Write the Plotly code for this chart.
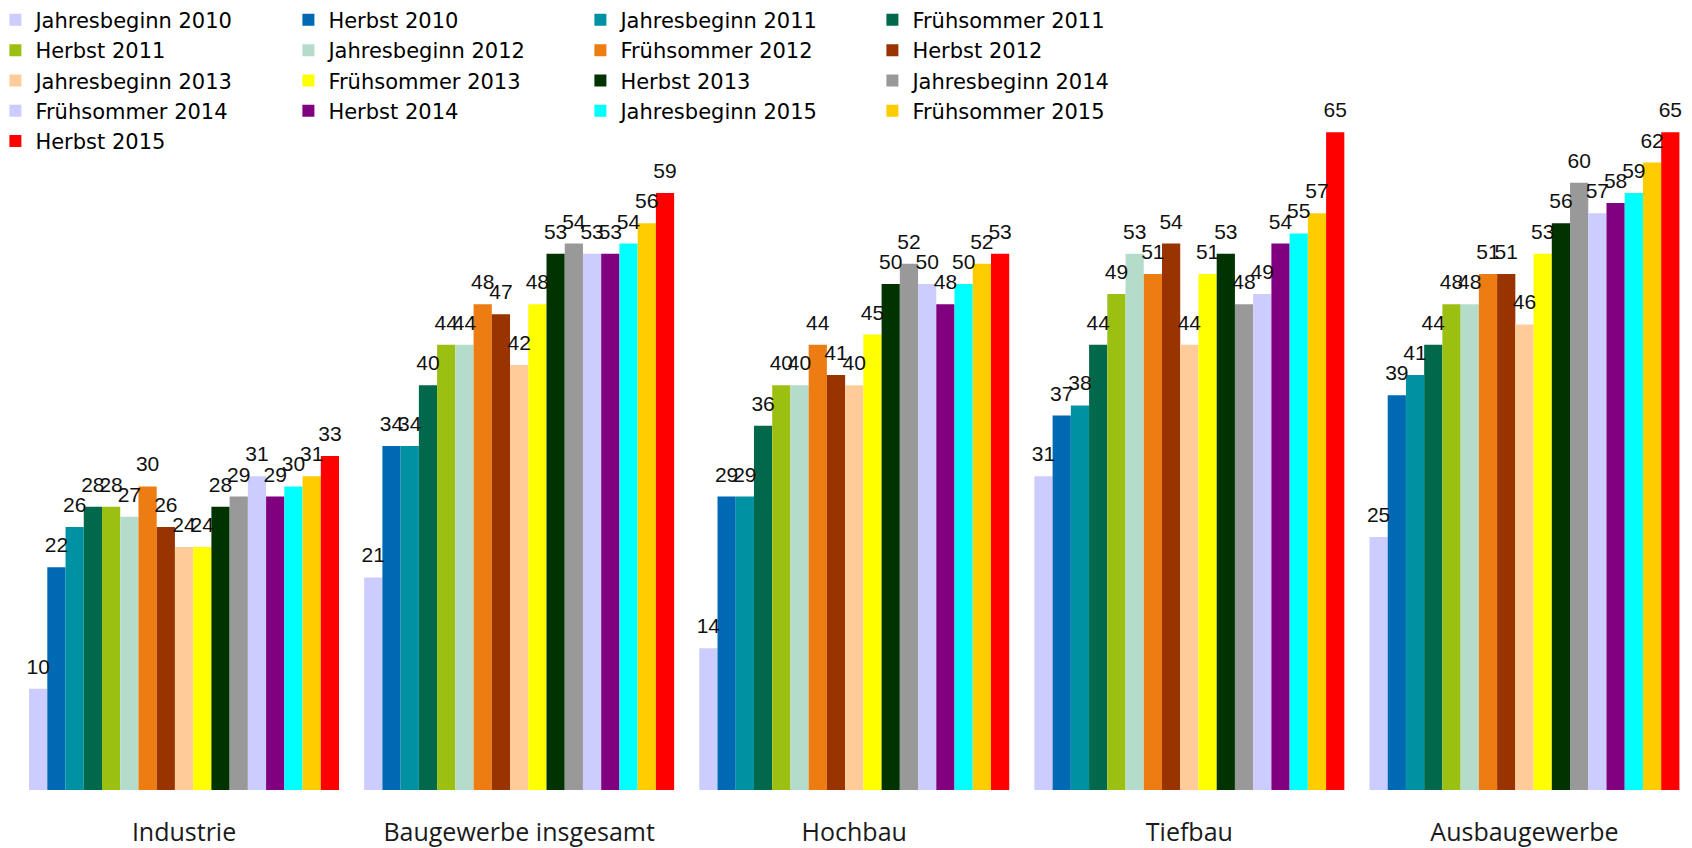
import plotly.graph_objects as go

categories = ["Industrie", "Baugewerbe insgesamt", "Hochbau", "Tiefbau", "Ausbaugewerbe"]

series_names = [
    "Jahresbeginn 2010", "Herbst 2010", "Jahresbeginn 2011", "Frühsommer 2011",
    "Herbst 2011", "Jahresbeginn 2012", "Frühsommer 2012", "Herbst 2012",
    "Jahresbeginn 2013", "Frühsommer 2013", "Herbst 2013", "Jahresbeginn 2014",
    "Frühsommer 2014", "Herbst 2014", "Jahresbeginn 2015", "Frühsommer 2015",
    "Herbst 2015",
]

# values per category (Industrie, Baugewerbe insgesamt, Hochbau, Tiefbau, Ausbaugewerbe)
jahresbeginn_2010 = [10, 21, 14, 31, 25]
herbst_2010 = [22, 34, 29, 37, 39]
jahresbeginn_2011 = [26, 34, 29, 38, 41]
fruehsommer_2011 = [28, 40, 36, 44, 44]
herbst_2011 = [28, 44, 40, 49, 48]
jahresbeginn_2012 = [27, 44, 40, 53, 48]
fruehsommer_2012 = [30, 48, 44, 51, 51]
herbst_2012 = [26, 47, 41, 54, 51]
jahresbeginn_2013 = [24, 42, 40, 44, 46]
fruehsommer_2013 = [24, 48, 45, 51, 53]
herbst_2013 = [28, 53, 50, 53, 56]
jahresbeginn_2014 = [29, 54, 52, 48, 60]
fruehsommer_2014 = [31, 53, 50, 49, 57]
herbst_2014 = [29, 53, 48, 54, 58]
jahresbeginn_2015 = [30, 54, 50, 55, 59]
fruehsommer_2015 = [31, 56, 52, 57, 62]
herbst_2015 = [33, 59, 53, 65, 65]

series_values = [
    jahresbeginn_2010, herbst_2010, jahresbeginn_2011, fruehsommer_2011,
    herbst_2011, jahresbeginn_2012, fruehsommer_2012, herbst_2012,
    jahresbeginn_2013, fruehsommer_2013, herbst_2013, jahresbeginn_2014,
    fruehsommer_2014, herbst_2014, jahresbeginn_2015, fruehsommer_2015,
    herbst_2015,
]

colors = [
    "#CCCCFF", "#0069B4", "#0091A3", "#00684B",
    "#9BC012", "#B5DCCB", "#ED7D13", "#993300",
    "#FFCC99", "#FFFF00", "#003300", "#999999",
    "#CCCCFF", "#800080", "#00FFFF", "#FFCC00",
    "#FF0000",
]

legend_ids = ["legend", "legend2", "legend3", "legend4"]
legend_x_px = [-12.6, 280.4, 572.4, 864.4]

W, H = 1684, 840
MB = 58
PLOT_H = H - MB
GAP = 0.075
LEGEND_FONT = dict(family="DejaVu Sans, Open Sans, sans-serif", size=21, color="#000000")
LABEL_FONT = dict(family="Liberation Sans, Arial, sans-serif", size=21, color="#111111")

fig = go.Figure()
# bars
for i, (name, vals, col) in enumerate(zip(series_names, series_values, colors)):
    fig.add_trace(go.Bar(
        name=name,
        x=categories,
        y=vals,
        marker=dict(color=col, line=dict(width=0)),
        legend=legend_ids[i % 4],
        hoverinfo="x+y+name",
    ))
# value labels above the bars (grouped like the bars)
for i, (name, vals) in enumerate(zip(series_names, series_values)):
    fig.add_trace(go.Scatter(
        name=name,
        x=categories,
        y=vals,
        mode="markers+text",
        marker=dict(size=14, color="rgba(0,0,0,0)", line=dict(width=0)),
        text=[str(v) for v in vals],
        textposition="top center",
        textfont=LABEL_FONT,
        cliponaxis=False,
        showlegend=False,
        hoverinfo="skip",
    ))

layout_legends = {}
for k, lid in enumerate(legend_ids):
    layout_legends[lid] = dict(
        xref="paper", yref="paper",
        x=legend_x_px[k] / W, y=1 + 8.3 / PLOT_H,
        xanchor="left", yanchor="top",
        orientation="v",
        font=LEGEND_FONT,
        bgcolor="rgba(0,0,0,0)",
        borderwidth=0,
        tracegroupgap=0,
        itemclick=False, itemdoubleclick=False,
    )

fig.update_layout(
    width=W, height=H,
    margin=dict(l=0, r=0, t=0, b=MB, autoexpand=False),
    paper_bgcolor="white",
    plot_bgcolor="white",
    barmode="group",
    bargap=GAP,
    bargroupgap=0,
    scattermode="group",
    scattergap=GAP,
    showlegend=True,
    **layout_legends,
    xaxis=dict(
        type="category",
        domain=[8.5 / W, 1],
        automargin=False,
        showgrid=False, zeroline=False, showline=False,
        ticks="outside", ticklen=20, tickcolor="rgba(0,0,0,0)",
        tickfont=dict(family="Open Sans, Liberation Sans, sans-serif", size=25, color="#1a1a1a"),
    ),
    yaxis=dict(
        range=[0, PLOT_H / 10.12],
        automargin=False,
        showgrid=False, zeroline=False, showline=False,
        showticklabels=False, ticks="",
    ),
)

fig.write_html("out.html")
